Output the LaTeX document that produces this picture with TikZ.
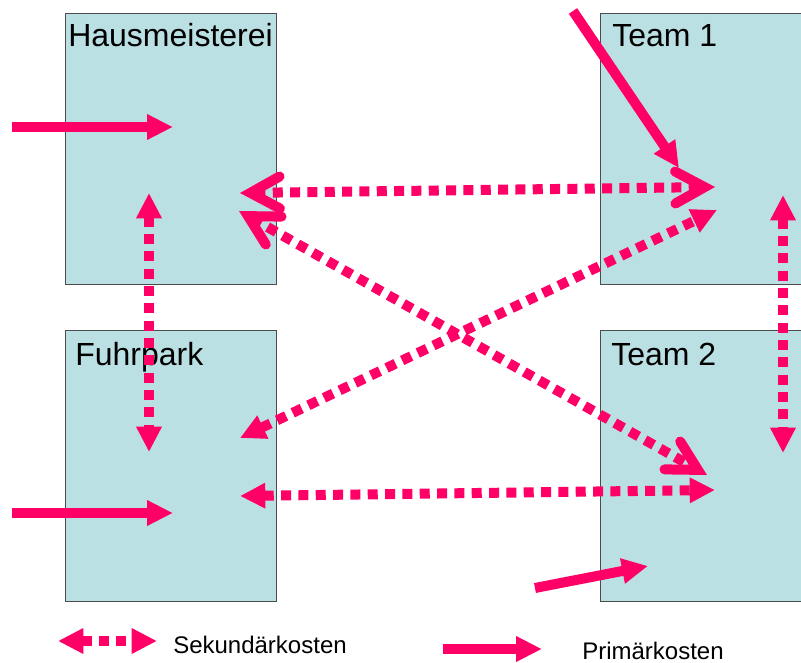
\documentclass[tikz,border=0pt]{standalone}
\usepackage{fontspec}
\setmainfont{Liberation Sans}
\usetikzlibrary{arrows.meta}

\definecolor{kostenPink}{HTML}{FF0066}
\definecolor{stelleBlau}{HTML}{BBE0E3}

\begin{document}
\begin{tikzpicture}[x = 0.75pt, y = -0.75pt,
  stelle/.style = {draw=black!70, fill=stelleBlau, line width=0.75pt,
    minimum width=158.25pt, minimum height=203.25pt, inner sep=0pt, anchor=north west},
  titel/.style = {font=\fontsize{24}{28}\selectfont, anchor=base west, inner sep=0pt},
  legende/.style = {font=\fontsize{18}{21}\selectfont, anchor=base west, inner sep=0pt},
  primaer/.style = {draw=kostenPink, line width=7.5pt,
    -{Triangle[length=19.5pt,width=18pt]}},
  sekundaer/.style = {draw=kostenPink, line width=7.5pt, dash pattern=on 7.5pt off 5.5pt,
    {Triangle[length=19pt,width=18pt]}-{Triangle[length=19pt,width=18pt]}},
  sekundaerOffen/.style = {draw=kostenPink, line width=7.5pt, dash pattern=on 7.5pt off 5.5pt,
    {Straight Barb[length=22pt,width=24pt,line width=7.5pt,line cap=round]}-{Straight Barb[length=22pt,width=24pt,line width=7.5pt,line cap=round]}}
]
\useasboundingbox (0,0) rectangle (801,663);
\clip (0,0) rectangle (801,663);

% Kostenstellen
\node[stelle] (haus) at (65,13) {};
\node[stelle, minimum width=165pt] (team1) at (600,13) {};
\node[stelle] (fuhr) at (65,330) {};
\node[stelle, minimum width=165pt] (team2) at (600,330) {};

\node[titel] (hausT) at (68,47) {Hausmeisterei};
\node[titel] (team1T) at (612,47) {Team 1};
\node[titel] (fuhrT) at (75,366) {Fuhrpark};
\node[titel] (team2T) at (611,366) {Team 2};

% Endpunkte
\coordinate (hausIn0) at (12,127);   \coordinate (hausIn) at (173,127);
\coordinate (fuhrIn0) at (12,513);   \coordinate (fuhrIn) at (173,513);
\coordinate (team1In0) at (573,11);  \coordinate (team1In) at (679,168);
\coordinate (team2In0) at (535,588); \coordinate (team2In) at (648,566);

\coordinate (hausA) at (240,193);  \coordinate (team1A) at (715,187);
\coordinate (hausB) at (239,211);  \coordinate (team2B) at (707,475);
\coordinate (fuhrC) at (240,438);  \coordinate (team1C) at (717,210);
\coordinate (fuhrD) at (240,496);  \coordinate (team2D) at (715,490);
\coordinate (hausE) at (149,193);  \coordinate (fuhrE) at (149,452);
\coordinate (team1F) at (783,195); \coordinate (team2F) at (783,453);

% Primaerkosten
\draw[primaer] (hausIn0) -- (hausIn);
\draw[primaer] (fuhrIn0) -- (fuhrIn);
\draw[primaer] (team1In0) -- (team1In);
\draw[primaer] (team2In0) -- (team2In);

% Sekundaerkosten
\draw[sekundaerOffen] (hausA) -- (team1A);
\draw[sekundaerOffen] (hausB) -- (team2B);
\draw[sekundaer] (fuhrC) -- (team1C);
\draw[sekundaer] (fuhrD) -- (team2D);
\draw[sekundaer] (hausE) -- (fuhrE);
\draw[sekundaer] (team1F) -- (team2F);

% Legende
\coordinate (legS0) at (58,641);  \coordinate (legS) at (157,641);
\coordinate (legP0) at (443,649); \coordinate (legP) at (542,649);
\draw[sekundaer] (legS0) -- (legS);
\node[legende] (legSText) at (173,653) {Sekundärkosten};
\draw[primaer] (legP0) -- (legP);
\node[legende] (legPText) at (582,659) {Primärkosten};
\end{tikzpicture}
\end{document}
